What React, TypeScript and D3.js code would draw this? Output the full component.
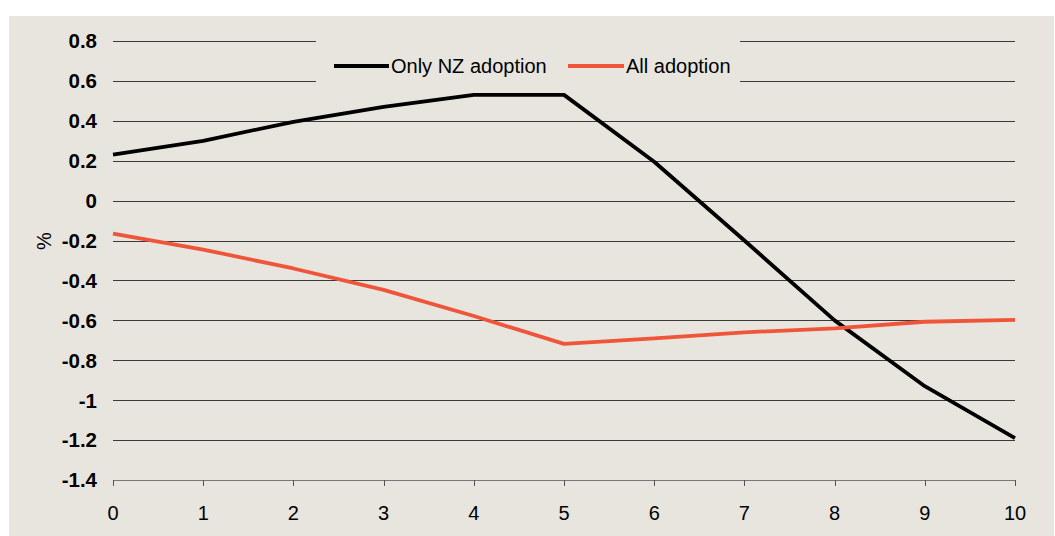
import React from "react";
import * as d3 from "d3";

const years = [0, 1, 2, 3, 4, 5, 6, 7, 8, 9, 10];
const onlyNZ = [0.23, 0.3, 0.395, 0.47, 0.53, 0.53, 0.195, -0.2, -0.6, -0.93, -1.19];
const allAdoption = [-0.165, -0.245, -0.34, -0.447, -0.578, -0.718, -0.69, -0.66, -0.64, -0.607, -0.598];
const yTicks = [0.8, 0.6, 0.4, 0.2, 0, -0.2, -0.4, -0.6, -0.8, -1, -1.2, -1.4];
const seriesNames = ["Only NZ adoption", "All adoption"];

const W = 1055;
const H = 536;
const BG = "#E8E5DF";
const RED = "#EF5539";

export default function App() {
  const x = d3.scaleLinear().domain([0, 10]).range([113, 1015]);
  const y = d3.scaleLinear().domain([-1.4, 0.8]).range([480, 41]);
  const line = d3
    .line<number>()
    .x((_, i) => x(years[i]))
    .y((d) => y(d));
  const font = "Liberation Sans, Arial, sans-serif";

  return (
    <svg
      width={W}
      height={H}
      style={{ position: "absolute", left: 0, top: 0, display: "block" }}
      fontFamily={font}
    >
      <rect x={0} y={0} width={W} height={H} fill="#ffffff" />
      <rect x={9} y={16} width={1045} height={H - 16} fill={BG} />
      {yTicks.map((t) => (
        <g key={t}>
          <line
            x1={113}
            x2={1015}
            y1={Math.round(y(t)) + 0.5}
            y2={Math.round(y(t)) + 0.5}
            stroke={t === -1.4 ? "#777" : "#3a3a3a"}
            strokeWidth={1}
          />
          <text
            x={97}
            y={y(t)}
            dy="0.36em"
            textAnchor="end"
            fontWeight="bold"
            fontSize={20.5}
            fill="#000"
          >
            {String(t)}
          </text>
        </g>
      ))}
      {years.map((v) => (
        <g key={v}>
          <line
            x1={Math.round(x(v)) + 0.5}
            x2={Math.round(x(v)) + 0.5}
            y1={480}
            y2={486}
            stroke="#555"
            strokeWidth={1}
          />
          <text x={x(v)} y={520} textAnchor="middle" fontSize={20} fill="#000">
            {v}
          </text>
        </g>
      ))}
      <text
        transform="translate(51,241) rotate(-90)"
        textAnchor="middle"
        fontSize={20}
        fill="#000"
      >
        %
      </text>
      {/* legend box */}
      <rect x={316} y={38} width={424} height={46} fill={BG} />
      <line x1={334} x2={389} y1={66} y2={66} stroke="#000" strokeWidth={3.8} />
      <text x={391} y={66} dy="0.36em" fontSize={20} fill="#000">
        {seriesNames[0]}
      </text>
      <line x1={568} x2={624} y1={66} y2={66} stroke={RED} strokeWidth={3.8} />
      <text x={626} y={66} dy="0.36em" fontSize={20} fill="#000">
        {seriesNames[1]}
      </text>
      <path d={line(onlyNZ) || ""} fill="none" stroke="#000" strokeWidth={3.8} strokeLinejoin="round" />
      <path d={line(allAdoption) || ""} fill="none" stroke={RED} strokeWidth={3.8} strokeLinejoin="round" />
    </svg>
  );
}
